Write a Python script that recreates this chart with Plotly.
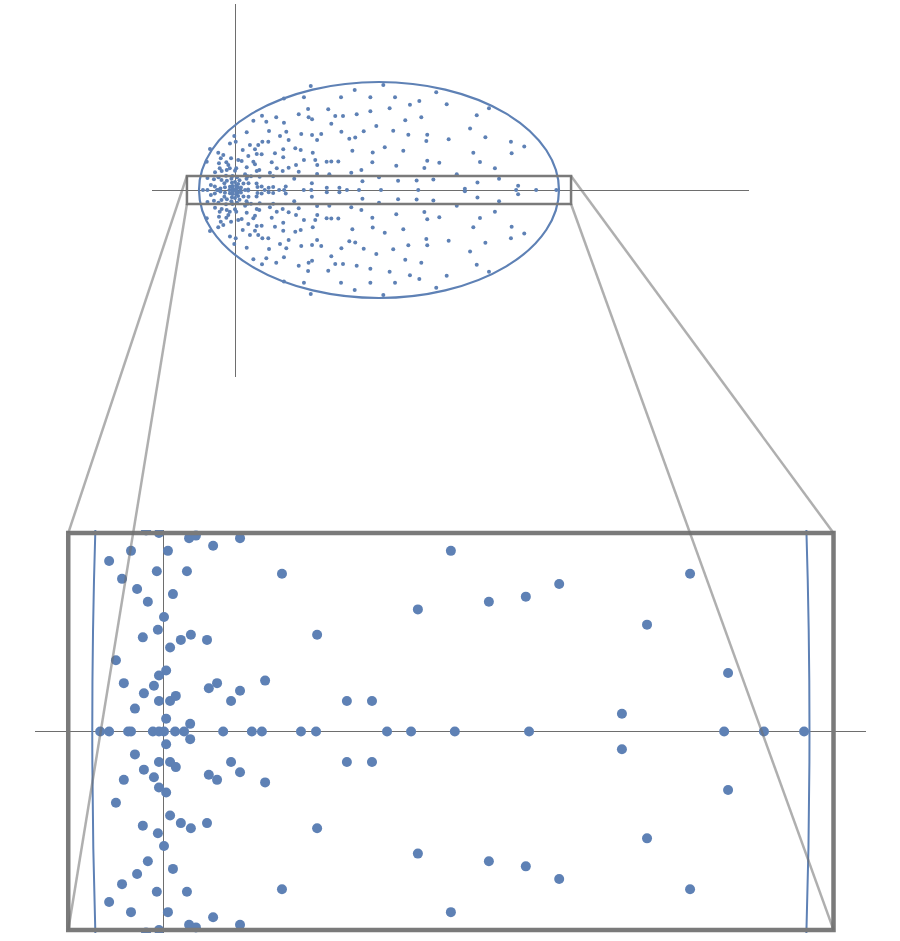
import plotly.graph_objects as go

# eigenvalues that sit on the real axis
real_x = [-0.178, -0.153, -0.100, -0.092, -0.031, -0.014, 0.000, 0.031, 0.056,
          0.165, 0.245, 0.273, 0.382, 0.424, 0.622, 0.689, 0.811, 1.018,
          1.562, 1.673, 1.785]

# complex eigenvalues, upper half plane only (read from the zoomed strip)
band_x = [-0.050, -0.014, 0.070, 0.089, 0.137, 0.212, -0.092, 0.011, -0.153,
          -0.020, 0.064, -0.117, -0.075, 0.025, -0.045, 0.000, -0.017, 0.075,
          -0.059, 0.047, 0.120, 0.017, -0.134, 0.006, -0.014, -0.112, -0.028,
          0.125, 0.148, -0.056, -0.014, 0.017, 0.033, -0.081, 0.006, 0.073,
          0.329, 0.427, 0.282, 0.212, 0.187, 0.510, 0.580, 0.800, 0.708,
          0.906, 1.009, 1.102, 1.467, 1.347, 1.573, 1.277]
band_y = [0.079, 0.078, 0.076, 0.077, 0.073, 0.076, 0.071, 0.071, 0.067,
          0.063, 0.063, 0.060, 0.056, 0.054, 0.051, 0.045, 0.040, 0.038,
          0.037, 0.036, 0.036, 0.033, 0.028, 0.024, 0.022, 0.019, 0.018,
          0.017, 0.019, 0.015, 0.012, 0.012, 0.014, 0.009, 0.005, 0.003,
          0.062, 0.038, 0.020, 0.016, 0.012, 0.012, 0.012, 0.071, 0.048,
          0.051, 0.053, 0.058, 0.062, 0.042, 0.023, 0.007]

# complex eigenvalues, upper half plane, outside the strip
outer_x = [0.102, 0.065, -0.004, 0.004, -0.139, -0.028, 0.083, 0.129, -0.093,
           -0.065, 0.043, 0.018, -0.022, 0.074, 0.121, -0.157, -0.089, -0.037,
           0.102, -0.111, -0.074, -0.046, 0.000, 0.065, 0.121, 0.056, -0.079,
           -0.048, -0.085, -0.029, 0.007,
           0.189, 0.250, 0.152, 0.185, 0.111, 0.222, 0.268, 0.148, 0.037,
           0.111, 0.204, 0.268, 0.135, 0.232, 0.265, 0.194,
           0.421, 0.383, 0.272, 0.150, 0.229, 0.354, 0.406, 0.409, 0.428,
           0.174, 0.272, 0.285, 0.368, 0.479, 0.298, 0.428, 0.456, 0.335,
           0.365, 0.383, 0.446, 0.298, 0.354, 0.457, 0.432, 0.339, 0.456,
           0.665, 0.824, 0.589, 0.752, 0.889, 0.518, 0.557, 0.600, 0.676,
           0.752, 0.859, 0.535, 0.591, 0.715, 0.785, 0.879, 0.635, 0.668,
           0.652, 0.765, 0.832, 0.509, 0.535, 0.574, 0.763, 0.896, 0.702,
           0.646, 0.524,
           1.118, 0.972, 1.024, 1.176, 1.343, 0.946, 1.035, 1.306, 0.963,
           1.068, 1.063, 1.187, 0.935, 1.324, 1.068, 1.135, 1.052, 1.361,
           1.232,
           1.411, 1.391, 1.533, 1.607, 1.537, 1.444]
outer_y = [0.385, 0.321, 0.300, 0.268, 0.228, 0.259, 0.250, 0.250, 0.207,
           0.194, 0.222, 0.167, 0.176, 0.189, 0.200, 0.157, 0.148, 0.139,
           0.157, 0.098, 0.106, 0.111, 0.107, 0.126, 0.106, 0.087, 0.176,
           0.154, 0.121, 0.121, 0.121,
           0.328, 0.300, 0.268, 0.268, 0.226, 0.204, 0.226, 0.198, 0.161,
           0.143, 0.154, 0.182, 0.111, 0.121, 0.106, 0.096,
           0.578, 0.515, 0.509, 0.413, 0.404, 0.421, 0.450, 0.404, 0.393,
           0.379, 0.374, 0.324, 0.311, 0.311, 0.278, 0.306, 0.278, 0.232,
           0.222, 0.167, 0.167, 0.124, 0.102, 0.139, 0.207, 0.139, 0.089,
           0.556, 0.583, 0.515, 0.515, 0.515, 0.448, 0.411, 0.411, 0.421,
           0.437, 0.454, 0.368, 0.324, 0.326, 0.356, 0.329, 0.285, 0.291,
           0.218, 0.209, 0.237, 0.157, 0.159, 0.159, 0.154, 0.135, 0.111,
           0.096, 0.087,
           0.543, 0.474, 0.494, 0.476, 0.415, 0.387, 0.404, 0.341, 0.307,
           0.307, 0.272, 0.282, 0.218, 0.207, 0.163, 0.152, 0.122, 0.156,
           0.087,
           0.454, 0.293, 0.268, 0.241, 0.204, 0.121]

# bounding ellipse and zoom window
ell_x = [-0.2, 1.8]
ell_y = [-0.6, 0.6]
box_x = [-0.267, 1.867]
box_y = [-0.078, 0.078]

# complex ones come in conjugate pairs
up_x = band_x + outer_x
up_y = band_y + outer_y
xs = real_x + up_x + up_x
ys = [0.0] * len(real_x) + up_y + [-v for v in up_y]

blue = "#5e81b5"
W, H = 900, 941

# top: whole spectrum, bottom: the strip blown up
top_dx = [152 / W, 749 / W]
top_dy = [1 - 377 / H, 1 - 4 / H]
top_rx = [-0.4611, 2.8556]
top_ry = [-1.0389, 1.0333]
bot_dx = [35 / W, 866 / W]
bot_dy = [1 - 933 / H, 1 - 530 / H]
bot_rx = [-0.3597, 1.9576]
bot_ry = [-0.0792, 0.0792]


def to_paper(x, y, dx, dy, rx, ry):
    px = dx[0] + (x - rx[0]) / (rx[1] - rx[0]) * (dx[1] - dx[0])
    py = dy[0] + (y - ry[0]) / (ry[1] - ry[0]) * (dy[1] - dy[0])
    return px, py


fig = go.Figure()
fig.add_trace(go.Scatter(x=xs, y=ys, mode="markers", xaxis="x", yaxis="y",
                         marker=dict(size=4, color=blue), hoverinfo="skip"))
fig.add_trace(go.Scatter(x=xs, y=ys, mode="markers", xaxis="x2", yaxis="y2",
                         marker=dict(size=10, color=blue), hoverinfo="skip"))

ax = dict(showgrid=False, showticklabels=False, ticks="", showline=False,
          zeroline=True, zerolinecolor="#6e6e6e", zerolinewidth=1)

shapes = []
for xr, yr, w in [("x", "y", 2.2), ("x2", "y2", 2)]:
    shapes.append(dict(type="circle", xref=xr, yref=yr, x0=ell_x[0], x1=ell_x[1],
                       y0=ell_y[0], y1=ell_y[1], line=dict(color=blue, width=w)))
shapes.append(dict(type="rect", xref="x", yref="y", x0=box_x[0], x1=box_x[1],
                   y0=box_y[0], y1=box_y[1], line=dict(color="#7a7a7a", width=2.5)))
shapes.append(dict(type="rect", xref="x2", yref="y2", x0=box_x[0], x1=box_x[1],
                   y0=box_y[0], y1=box_y[1], line=dict(color="#7a7a7a", width=4.5)))

# connectors from the small window to the big one
for bx in box_x:
    for by in box_y:
        x0, y0 = to_paper(bx, by, top_dx, top_dy, top_rx, top_ry)
        x1, y1 = to_paper(bx, by, bot_dx, bot_dy, bot_rx, bot_ry)
        shapes.append(dict(type="line", xref="paper", yref="paper", x0=x0, y0=y0,
                           x1=x1, y1=y1, line=dict(color="rgba(110,110,110,0.55)", width=2.5)))

fig.update_layout(
    width=W, height=H, autosize=False,
    margin=dict(l=0, r=0, t=0, b=0),
    paper_bgcolor="white", plot_bgcolor="white",
    showlegend=False,
    xaxis=dict(domain=top_dx, range=top_rx, anchor="y", **ax),
    yaxis=dict(domain=top_dy, range=top_ry, anchor="x", **ax),
    xaxis2=dict(domain=bot_dx, range=bot_rx, anchor="y2", **ax),
    yaxis2=dict(domain=bot_dy, range=bot_ry, anchor="x2", **ax),
    shapes=shapes,
)

# drop the default page margin so the figure sits at the window corner
fig.write_html("out.html", config={"displayModeBar": False},
               post_script="document.body.style.margin='0';")
